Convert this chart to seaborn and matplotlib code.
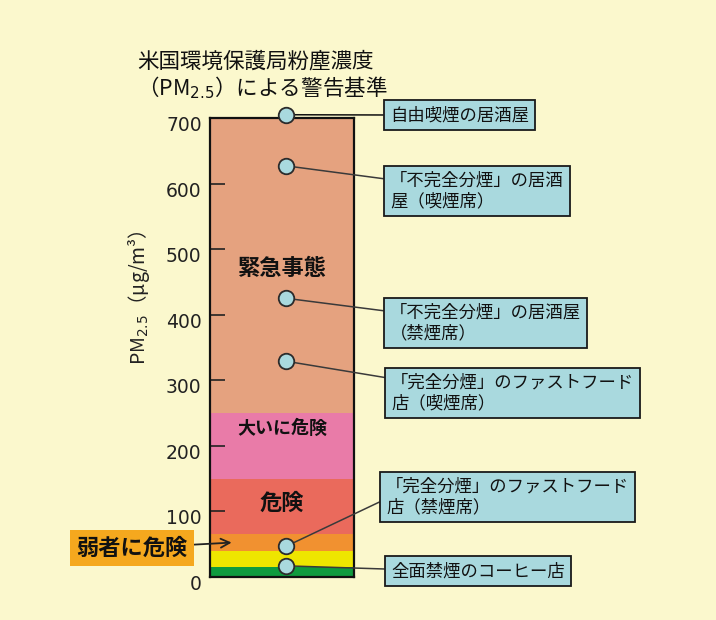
import matplotlib
matplotlib.use('Agg')
import matplotlib.pyplot as plt
import matplotlib.transforms as mtransforms
import seaborn as sns
import pandas as pd
import numpy as np

# ---------------- data ----------------
band_names = ['良好', '普通', '弱者に危険', '危険', '大いに危険', '緊急事態']
band_tops = [15, 40, 65, 150, 250, 700]
band_colors = ['#0f9b3e', '#eee600', '#f19130', '#ea6a5c', '#e97ba8', '#e5a27f']

inbar_labels = ['緊急事態', '大いに危険', '危険']
inbar_values = [471, 227, 113]

venues = ['自由喫煙の居酒屋',
          '「不完全分煙」の居酒\n屋（喫煙席）',
          '「不完全分煙」の居酒屋\n（禁煙席）',
          '「完全分煙」のファストフード\n店（喫煙席）',
          '「完全分煙」のファストフード\n店（禁煙席）',
          '全面禁煙のコーヒー店']
pm_values = [705, 627, 425, 329, 47, 17]

yticks = [0, 100, 200, 300, 400, 500, 600, 700]

title_text = '米国環境保護局粉塵濃度\n（PM$_{2.5}$）による警告基準'
ylabel_text = 'PM$_{2.5}$（μg/m³）'
sensitive_label = '弱者に危険'

# ---------------- style ----------------
BG = '#fbf8cd'
BOX = '#a9d9de'
W, H = 716, 620
plt.rcParams['font.family'] = ['Noto Sans CJK JP', 'DejaVu Sans']

fig = plt.figure(figsize=(W / 100, H / 100), dpi=100, facecolor=BG)
ax = fig.add_axes([210 / W, 43 / H, 144 / W, 459 / H])

# layered bands (largest drawn first)
bands_df = pd.DataFrame({'col': ['PM'] * len(band_names),
                         'top': band_tops, 'band': band_names})
sns.barplot(data=bands_df, x='col', y='top', hue='band',
            hue_order=band_names[::-1],
            palette=dict(zip(band_names, band_colors)),
            dodge=False, width=1.0, errorbar=None, legend=False,
            saturation=1, linewidth=0, ax=ax)

ax.set_xlim(-0.5, 0.5)
ax.set_ylim(0, 700)
ax.set_xticks([])
ax.set_xlabel('')
ax.set_ylabel('')
ax.set_yticks(yticks)
ax.set_yticklabels([str(v) for v in yticks])
ax.tick_params(axis='y', direction='in', length=11, width=1.2, color='#222222',
               labelsize=13.5, pad=6, labelcolor='#222222',
               labelfontfamily='DejaVu Sans')
for sp in ax.spines.values():
    sp.set_linewidth(1.6)
    sp.set_color('#111111')

offset = mtransforms.ScaledTranslation(0, -4 / 72, fig.dpi_scale_trans)
for lab in ax.get_yticklabels():
    lab.set_transform(lab.get_transform() + offset)

# labels inside bar
inbar_sizes = [16, 13, 16]
for txt, yv, fs in zip(inbar_labels, inbar_values, inbar_sizes):
    ax.text(0.0, yv, txt, ha='center', va='center', fontsize=fs,
            fontweight='bold', color='#111111')

# measurement points
point_x = 0.03
pts = pd.DataFrame({'x': np.full(len(pm_values), point_x), 'pm': pm_values})
sns.scatterplot(data=pts, x='x', y='pm', s=125, color=BOX, edgecolor='#2b2b2b',
                linewidth=1.3, zorder=6, clip_on=False, legend=False, ax=ax)
ax.set_xlabel('')
ax.set_ylabel('')

# annotation boxes (figure pixel layout)
box_left = [390, 390, 390, 391, 386, 391]
box_cy = [115, 191, 323, 393, 497, 571]
relpos_y = [0.5, 0.8, 0.8, 0.88, 0.45, 0.6]
line_cols = ['#111111', '#3a3a3a', '#3a3a3a', '#3a3a3a', '#3a3a3a', '#3a3a3a']
for name, val, bx, by, rp, lc in zip(venues, pm_values, box_left, box_cy,
                                     relpos_y, line_cols):
    ax.annotate(name, xy=(point_x, val), xycoords='data',
                xytext=(bx, H - by), textcoords='figure pixels',
                ha='left', va='center', fontsize=12.5, color='#111111',
                linespacing=1.15,
                bbox=dict(boxstyle='square,pad=0.35', fc=BOX, ec='#1a1a1a', lw=1.3),
                arrowprops=dict(arrowstyle='-', color=lc, lw=1.1,
                                shrinkA=0, shrinkB=0, relpos=(0, rp)),
                annotation_clip=False, zorder=4)

# sensitive-group label with arrow
ax.annotate(sensitive_label, xy=(-0.35, (band_tops[1] + band_tops[2]) / 2),
            xycoords='data', xytext=(132, H - 548), textcoords='figure pixels',
            ha='center', va='center', fontsize=16, fontweight='bold',
            color='#111111',
            bbox=dict(boxstyle='square,pad=0.3', fc='#f5a81e', ec='none'),
            arrowprops=dict(arrowstyle='->', color='#222222', lw=1.3,
                            shrinkA=0, shrinkB=0),
            annotation_clip=False, zorder=4)

# title and y label
fig.text(137 / W, 1 - 50 / H, title_text, ha='left', va='top',
         fontsize=15.5, color='#111111', linespacing=1.1)
fig.text(139 / W, 1 - 298 / H, ylabel_text, rotation=90, ha='center',
         va='center', fontsize=14, color='#222222')

fig.savefig('out.png', dpi=100, facecolor=BG)
